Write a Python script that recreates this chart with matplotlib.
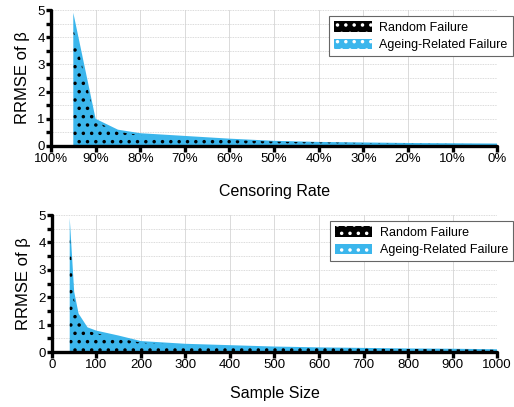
import matplotlib
matplotlib.use("Agg")
import matplotlib.pyplot as plt
from matplotlib.patches import Patch
from matplotlib.ticker import MultipleLocator, FuncFormatter

plt.rcParams['font.family'] = ['Liberation Sans', 'DejaVu Sans']
plt.rcParams['hatch.linewidth'] = 1.3

BLUE = '#3BB6EC'

# censoring rate panel (x in percent)
cens_rate = [95, 90, 85, 80, 75, 70, 65, 60, 50, 40, 30, 20, 10, 0]
cens_ageing = [4.9, 1.0, 0.6, 0.47, 0.42, 0.37, 0.32, 0.27, 0.19, 0.15, 0.13, 0.11, 0.10, 0.09]
cens_random = [4.3, 0.9, 0.52, 0.4, 0.35, 0.3, 0.26, 0.22, 0.16, 0.13, 0.11, 0.09, 0.08, 0.07]

# sample size panel
sample_size = [40, 50, 60, 80, 100, 150, 200, 300, 400, 500, 600, 700, 800, 900, 1000]
size_ageing = [4.9, 2.2, 1.4, 0.9, 0.78, 0.6, 0.4, 0.3, 0.25, 0.2, 0.17, 0.15, 0.13, 0.12, 0.1]
size_random = [4.3, 1.9, 1.2, 0.78, 0.68, 0.5, 0.34, 0.26, 0.21, 0.17, 0.15, 0.13, 0.11, 0.1, 0.08]


def style_axes(ax):
    for s in ['top', 'right']:
        ax.spines[s].set_visible(False)
    for s in ['left', 'bottom']:
        ax.spines[s].set_linewidth(2.4)
        ax.spines[s].set_capstyle('round')
    ax.set_ylim(0, 5)
    ax.yaxis.set_major_locator(MultipleLocator(1))
    ax.yaxis.set_minor_locator(MultipleLocator(0.5))
    ax.tick_params(axis='y', which='both', direction='out', length=3.5, width=2.4,
                   labelsize=9.5, pad=1)
    ax.tick_params(axis='x', which='major', direction='out', length=4.5, width=2.4,
                   labelsize=9.5, pad=0.5)
    ax.grid(axis='x', which='major', color='#d4d4d4', lw=0.6, ls='-')
    ax.grid(axis='y', which='both', color='#cfcfcf', lw=0.6, ls=(0, (1, 1)))
    ax.set_axisbelow(True)
    ax.set_ylabel('RRMSE of β', fontsize=12, labelpad=5)


def draw_areas(ax, x, ageing, random):
    ax.fill_between(x, ageing, 0, facecolor=BLUE, edgecolor='none', lw=0, zorder=2)
    ax.fill_between(x, random, 0, facecolor='none', edgecolor='black', hatch='..',
                    lw=0, zorder=3)


def add_legend(ax):
    handles = [Patch(facecolor='black', edgecolor='white', hatch='..', lw=0),
               Patch(facecolor=BLUE, edgecolor='white', hatch='..', lw=0)]
    leg = ax.legend(handles, ['Random Failure', 'Ageing-Related Failure'],
                    loc='upper left', bbox_to_anchor=(0.61, 1.0), fontsize=9,
                    fancybox=False, framealpha=1, edgecolor='#666666',
                    handlelength=3.0, handleheight=0.9, borderpad=0.4,
                    labelspacing=0.4, handletextpad=0.6)
    leg.get_frame().set_linewidth(0.8)


fig = plt.figure(figsize=(5.14, 4.07), dpi=100)

ax1 = fig.add_axes([0.0992, 0.6413, 0.868, 0.3341])
style_axes(ax1)
draw_areas(ax1, cens_rate, cens_ageing, cens_random)
ax1.set_xlim(100, 0)
ax1.xaxis.set_major_locator(MultipleLocator(10))
ax1.xaxis.set_major_formatter(FuncFormatter(lambda v, p: f"{int(round(v))}%"))
ax1.set_xlabel('Censoring Rate', fontsize=11.5, labelpad=14)
add_legend(ax1)

ax2 = fig.add_axes([0.101, 0.1351, 0.866, 0.3366])
style_axes(ax2)
draw_areas(ax2, sample_size, size_ageing, size_random)
ax2.set_xlim(0, 1000)
ax2.xaxis.set_major_locator(MultipleLocator(100))
ax2.set_xlabel('Sample Size', fontsize=11.5, labelpad=11)
add_legend(ax2)

fig.savefig('out.png', dpi=100)
